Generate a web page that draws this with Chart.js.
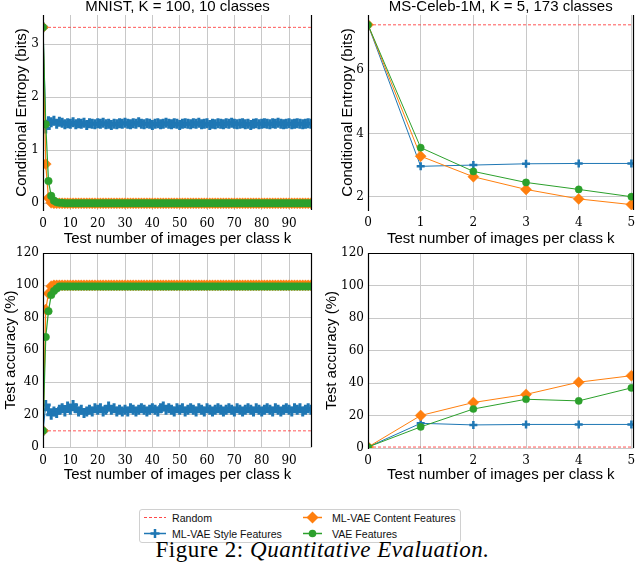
<!DOCTYPE html>
<html><head><meta charset="utf-8">
<script src="https://cdn.jsdelivr.net/npm/chart.js@4/dist/chart.umd.min.js"></script>
<style>
body{margin:0;background:#fff;}
#wrap{position:relative;width:640px;height:565px;overflow:hidden;background:#fff;}
canvas{position:absolute;}
#legend{position:absolute;left:139px;top:509px;width:320px;height:32px;border:1px solid #d0d0d0;border-radius:3px;background:#fff;}
.lt{position:absolute;font-family:'Liberation Sans',Arial,sans-serif;font-size:10.6px;line-height:16px;color:#111;white-space:nowrap;}
#caption{position:absolute;left:0;top:538px;width:645px;text-align:center;font-family:'Liberation Serif','Times New Roman',serif;font-size:23px;letter-spacing:0.5px;line-height:24px;color:#000;white-space:nowrap;}
</style></head><body>
<div id="wrap">
<canvas id="c1" width="320" height="250" style="left:0;top:0"></canvas>
<canvas id="c2" width="320" height="250" style="left:320px;top:0"></canvas>
<canvas id="c3" width="320" height="250" style="left:0;top:238px"></canvas>
<canvas id="c4" width="320" height="250" style="left:320px;top:238px"></canvas>
<div id="legend">
  <svg width="320" height="32" style="position:absolute;left:0;top:0">
    <line x1="4" y1="7.5" x2="26" y2="7.5" stroke="rgba(255,40,40,0.85)" stroke-width="1" stroke-dasharray="3,2"/>
    <line x1="4" y1="23.5" x2="26" y2="23.5" stroke="#1f77b4" stroke-width="1.5"/>
    <path d="M15 19 V28 M10.5 23.5 H19.5" stroke="#1f77b4" stroke-width="2.5" fill="none"/>
    <line x1="163" y1="7.5" x2="182" y2="7.5" stroke="#ff7f0e" stroke-width="1.5"/>
    <path d="M172.5 1.5 L178.5 7.5 L172.5 13.5 L166.5 7.5 Z" fill="#ff7f0e"/>
    <line x1="163" y1="23.5" x2="182" y2="23.5" stroke="#2ca02c" stroke-width="1.5"/>
    <circle cx="172.5" cy="23.5" r="3.8" fill="#2ca02c"/>
  </svg>
  <span class="lt" id="l0" style="left:32px;top:0"></span>
  <span class="lt" id="l1" style="left:32px;top:16px"></span>
  <span class="lt" id="l2" style="left:192px;top:0"></span>
  <span class="lt" id="l3" style="left:192px;top:16px"></span>
</div>
<div id="caption">Figure 2: <i>Quantitative Evaluation.</i></div>
</div>
<script>
// ---------------- data ----------------
const mnistK = [0,1,2,3,4,5,6,7,8,9,
 10,11,12,13,14,15,16,17,18,19,
 20,21,22,23,24,25,26,27,28,29,
 30,31,32,33,34,35,36,37,38,39,
 40,41,42,43,44,45,46,47,48,49,
 50,51,52,53,54,55,56,57,58,59,
 60,61,62,63,64,65,66,67,68,69,
 70,71,72,73,74,75,76,77,78,79,
 80,81,82,83,84,85,86,87,88,89,
 90,91,92,93,94,95,96,97,98];

const mnistEntStyle = [3.32,1.41,1.55,1.53,1.56,1.50,1.54,1.52,1.49,1.51,
 1.50,1.53,1.49,1.51,1.50,1.52,1.48,1.51,1.50,1.49,
 1.51,1.50,1.52,1.49,1.50,1.48,1.50,1.49,1.51,1.50,
 1.52,1.50,1.49,1.51,1.50,1.53,1.50,1.49,1.51,1.50,
 1.48,1.50,1.51,1.49,1.50,1.52,1.50,1.49,1.51,1.50,
 1.48,1.50,1.51,1.50,1.49,1.51,1.50,1.52,1.49,1.50,
 1.51,1.48,1.50,1.49,1.51,1.50,1.49,1.51,1.50,1.52,
 1.50,1.49,1.50,1.51,1.49,1.50,1.48,1.50,1.51,1.49,
 1.50,1.51,1.50,1.49,1.51,1.50,1.52,1.50,1.49,1.50,
 1.51,1.49,1.50,1.51,1.50,1.49,1.50,1.51,1.50];

const mnistEntContent = [3.32,0.74,0.10,0.01,0.00,0.00,0.00,0.00,0.00,0.00,
 0.00,0.00,0.00,0.00,0.00,0.00,0.00,0.00,0.00,0.00,
 0.00,0.00,0.00,0.00,0.00,0.00,0.00,0.00,0.00,0.00,
 0.00,0.00,0.00,0.00,0.00,0.00,0.00,0.00,0.00,0.00,
 0.00,0.00,0.00,0.00,0.00,0.00,0.00,0.00,0.00,0.00,
 0.00,0.00,0.00,0.00,0.00,0.00,0.00,0.00,0.00,0.00,
 0.00,0.00,0.00,0.00,0.00,0.00,0.00,0.00,0.00,0.00,
 0.00,0.00,0.00,0.00,0.00,0.00,0.00,0.00,0.00,0.00,
 0.00,0.00,0.00,0.00,0.00,0.00,0.00,0.00,0.00,0.00,
 0.00,0.00,0.00,0.00,0.00,0.00,0.00,0.00,0.00];

const mnistEntVae = [3.32,1.49,0.42,0.14,0.05,0.02,0.01,0.01,0.00,0.00,
 0.00,0.00,0.00,0.00,0.00,0.00,0.00,0.00,0.00,0.00,
 0.00,0.00,0.00,0.00,0.00,0.00,0.00,0.00,0.00,0.00,
 0.00,0.00,0.00,0.00,0.00,0.00,0.00,0.00,0.00,0.00,
 0.00,0.00,0.00,0.00,0.00,0.00,0.00,0.00,0.00,0.00,
 0.00,0.00,0.00,0.00,0.00,0.00,0.00,0.00,0.00,0.00,
 0.00,0.00,0.00,0.00,0.00,0.00,0.00,0.00,0.00,0.00,
 0.00,0.00,0.00,0.00,0.00,0.00,0.00,0.00,0.00,0.00,
 0.00,0.00,0.00,0.00,0.00,0.00,0.00,0.00,0.00,0.00,
 0.00,0.00,0.00,0.00,0.00,0.00,0.00,0.00,0.00];

const mnistAccStyle = [10,26,23,20,22,21,23,24,22,25,
 23,26,24,22,23,21,22,23,22,24,
 23,24,22,23,25,23,24,22,23,22,
 23,22,24,23,22,23,24,23,22,23,
 24,23,22,24,25,23,24,23,22,24,
 23,24,22,23,24,23,22,24,23,22,
 24,23,22,23,24,23,22,23,24,23,
 22,24,23,22,23,24,23,22,24,23,
 22,23,24,23,22,24,23,22,23,24,
 23,22,24,23,24,22,23,24,23];

const mnistAccContent = [10,85,95,99.5,100,100,100,100,100,100,
 100,100,100,100,100,100,100,100,100,100,
 100,100,100,100,100,100,100,100,100,100,
 100,100,100,100,100,100,100,100,100,100,
 100,100,100,100,100,100,100,100,100,100,
 100,100,100,100,100,100,100,100,100,100,
 100,100,100,100,100,100,100,100,100,100,
 100,100,100,100,100,100,100,100,100,100,
 100,100,100,100,100,100,100,100,100,100,
 100,100,100,100,100,100,100,100,100];

const mnistAccVae = [10,68,84,94,96.5,98,99.3,99.3,99.3,99.3,
 99.3,99.3,99.3,99.3,99.3,99.3,99.3,99.3,99.3,99.3,
 99.3,99.3,99.3,99.3,99.3,99.3,99.3,99.3,99.3,99.3,
 99.3,99.3,99.3,99.3,99.3,99.3,99.3,99.3,99.3,99.3,
 99.3,99.3,99.3,99.3,99.3,99.3,99.3,99.3,99.3,99.3,
 99.3,99.3,99.3,99.3,99.3,99.3,99.3,99.3,99.3,99.3,
 99.3,99.3,99.3,99.3,99.3,99.3,99.3,99.3,99.3,99.3,
 99.3,99.3,99.3,99.3,99.3,99.3,99.3,99.3,99.3,99.3,
 99.3,99.3,99.3,99.3,99.3,99.3,99.3,99.3,99.3,99.3,
 99.3,99.3,99.3,99.3,99.3,99.3,99.3,99.3,99.3];

const mnistRandomEnt = 3.32;
const mnistRandomAcc = 10;

const celebK = [0,1,2,3,4,5];
const celebEntStyle   = [7.43,2.96,3.00,3.04,3.05,3.05];
const celebEntContent = [7.43,3.28,2.63,2.23,1.93,1.75];
const celebEntVae     = [7.43,3.55,2.80,2.45,2.23,2.00];
const celebAccStyle   = [0.6,15.2,14.2,14.5,14.5,14.5];
const celebAccContent = [0.6,20,28,33,40.5,44.5];
const celebAccVae     = [0.6,13,24,30,29,37];
const celebRandomEnt = 7.43;
const celebRandomAcc = 0.58;

const mnistXTicks = [0,10,20,30,40,50,60,70,80,90];
const celebXTicks = [0,1,2,3,4,5];
const mnistEntTicks = [0,1,2,3];
const celebEntTicks = [2,4,6];
const accTicks = [0,20,40,60,80,100,120];

const panelTitles = ['MNIST, K = 100, 10 classes','MS-Celeb-1M, K = 5, 173 classes'];
const xTitle = 'Test number of images per class k';
const entTitle = 'Conditional Entropy (bits)';
const accTitle = 'Test accuracy (%)';
const seriesNames = ['Random','ML-VAE Style Features','ML-VAE Content Features','VAE Features'];

// ---------------- style ----------------
const SANS = "'Liberation Sans', Arial, sans-serif";
const SERIF = "'DejaVu Serif', serif";
const GRID = '#c8c8c8';
const COLORS = {style:'#1f77b4', content:'#ff7f0e', vae:'#2ca02c', random:'rgba(255,40,40,0.8)'};

document.getElementById('l0').textContent = seriesNames[0];
document.getElementById('l1').textContent = seriesNames[1];
document.getElementById('l2').textContent = seriesNames[2];
document.getElementById('l3').textContent = seriesNames[3];

const framePlugin = {
  id: 'frame',
  afterDatasetsDraw(chart, args, o) {
    const a = chart.chartArea, c = chart.ctx;
    c.save(); c.strokeStyle = '#000'; c.lineWidth = 1.2; c.beginPath();
    const L = Math.round(a.left) + 0.5, R = Math.round(a.right) - 0.5, T = Math.round(a.top) + 0.5;
    if (o.left) { c.moveTo(L, a.top); c.lineTo(L, a.bottom + 1); }
    if (o.right) { c.moveTo(R, a.top); c.lineTo(R, a.bottom); }
    if (o.top) { c.moveTo(a.left, T); c.lineTo(a.right, T); }
    c.stroke(); c.restore();
  }
};

function pts(k, vals) { return k.map((x, i) => ({x: x, y: vals[i]})); }
function flat(k, v) { return k.map(x => ({x: x, y: v})); }

function makeDatasets(k, s, o) {
  return [
    {label: seriesNames[0], data: flat(k, s.random), borderColor: COLORS.random, borderWidth: 1, borderDash: [3, 2], pointRadius: 0, order: 4},
    {label: seriesNames[1], data: pts(k, s.style), borderColor: COLORS.style, borderWidth: o.lw, pointStyle: 'cross', pointRadius: o.crossR, pointBorderWidth: o.crossW, pointBorderColor: COLORS.style, pointBackgroundColor: COLORS.style, order: 3},
    {label: seriesNames[2], data: pts(k, s.content), borderColor: COLORS.content, borderWidth: o.lw, pointStyle: 'rectRot', pointRadius: 5.5, pointBorderWidth: 0.5, pointBorderColor: COLORS.content, pointBackgroundColor: COLORS.content, order: 2},
    {label: seriesNames[3], data: pts(k, s.vae), borderColor: COLORS.vae, borderWidth: o.lw, pointStyle: 'circle', pointRadius: o.circR, pointBorderWidth: 0.5, pointBorderColor: COLORS.vae, pointBackgroundColor: COLORS.vae, order: 1}
  ];
}

function fixTicks(values) { return function(scale) { scale.ticks = values.map(v => ({value: v})); }; }

function build(id, k, s, o) {
  return new Chart(document.getElementById(id), {
    type: 'line',
    data: {datasets: makeDatasets(k, s, o)},
    options: {
      responsive: false, animation: false, events: [],
      layout: {padding: {left: 0, right: o.padRight, top: o.padTop, bottom: 0}},
      elements: {line: {tension: 0}},
      plugins: {
        legend: {display: false}, tooltip: {enabled: false},
        title: {display: !!o.title, text: o.title || '', fullSize: false, color: '#000',
          font: {family: SANS, size: 15, weight: 'normal', lineHeight: 0.9}, padding: {top: 0, bottom: 1.5}},
        frame: {left: true, right: true, top: o.frameTop}
      },
      scales: {
        x: {
          type: 'linear', min: o.xMin, max: o.xMax,
          afterBuildTicks: fixTicks(o.xTicks),
          afterFit: sc => { sc.height = o.xHeight; sc.paddingLeft = 0; sc.paddingRight = 0; },
          grid: {color: GRID, lineWidth: 1, drawTicks: false},
          border: {display: false},
          ticks: {color: '#000', font: {family: SERIF, size: 12}, padding: o.xTickPad, maxRotation: 0, autoSkip: false},
          title: {display: true, text: xTitle, color: '#000', font: {family: SANS, size: 15}, padding: {top: 0, bottom: o.xTitlePad}}
        },
        y: {
          type: 'linear', min: o.yMin, max: o.yMax,
          afterBuildTicks: fixTicks(o.yTicks),
          afterFit: sc => { sc.width = o.yWidth; sc.paddingTop = 0; sc.paddingBottom = 0; },
          grid: {color: GRID, lineWidth: 1, drawTicks: false},
          border: {display: false},
          ticks: {color: '#000', font: {family: SERIF, size: 12}, padding: 4, autoSkip: false},
          title: {display: true, text: o.yTitle, color: '#000', font: {family: SANS, size: 15}, padding: {top: o.yTitlePad, bottom: 0}}
        }
      }
    },
    plugins: [framePlugin]
  });
}

build('c1', mnistK, {random: mnistRandomEnt, style: mnistEntStyle, content: mnistEntContent, vae: mnistEntVae}, {
  lw: 1.2, crossR: 5, crossW: 3, circR: 3.8, title: panelTitles[0], padTop: 0, padRight: 7, frameTop: false,
  xMin: 0, xMax: 98.4, xTicks: mnistXTicks, yMin: -0.126, yMax: 3.553, yTicks: mnistEntTicks,
  yTitle: entTitle, yWidth: 43, yTitlePad: 13, xHeight: 40, xTickPad: 7, xTitlePad: 2
});
build('c2', celebK, {random: celebRandomEnt, style: celebEntStyle, content: celebEntContent, vae: celebEntVae}, {
  lw: 1, crossR: 4, crossW: 2.5, circR: 3.6, title: panelTitles[1], padTop: 0, padRight: 0, frameTop: false,
  xMin: 0, xMax: 5.04, xTicks: celebXTicks, yMin: 1.58, yMax: 7.74, yTicks: celebEntTicks,
  yTitle: entTitle, yWidth: 48, yTitlePad: 18.5, xHeight: 40, xTickPad: 6, xTitlePad: 2
});
build('c3', mnistK, {random: mnistRandomAcc, style: mnistAccStyle, content: mnistAccContent, vae: mnistAccVae}, {
  lw: 1.2, crossR: 5, crossW: 3, circR: 3.8, title: null, padTop: 15, padRight: 7, frameTop: true,
  xMin: 0, xMax: 98.4, xTicks: mnistXTicks, yMin: 0, yMax: 120, yTicks: accTicks,
  yTitle: accTitle, yWidth: 43, yTitlePad: 2, xHeight: 41, xTickPad: 7, xTitlePad: 4
});
build('c4', celebK, {random: celebRandomAcc, style: celebAccStyle, content: celebAccContent, vae: celebAccVae}, {
  lw: 1, crossR: 4, crossW: 2.5, circR: 3.6, title: null, padTop: 15, padRight: 0, frameTop: true,
  xMin: 0, xMax: 5.04, xTicks: celebXTicks, yMin: 0, yMax: 120, yTicks: accTicks,
  yTitle: accTitle, yWidth: 48, yTitlePad: 3, xHeight: 40, xTickPad: 6, xTitlePad: 4
});
</script>
</body></html>
